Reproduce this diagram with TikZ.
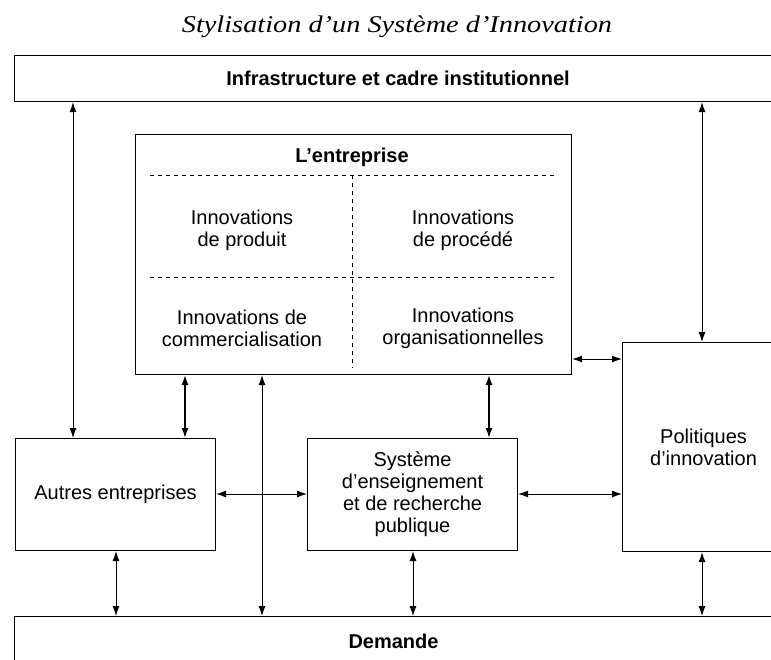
\documentclass[tikz,border=0pt]{standalone}
\usepackage{fontspec}
\setmainfont{Liberation Serif}
\setsansfont{Liberation Sans}
\newfontfamily\titlefont{Liberation Serif}[FakeStretch=1.18]
\usetikzlibrary{arrows.meta}
\begin{document}
\begin{tikzpicture}[x=1pt,y=-1pt,
  txt/.style={font=\sffamily\fontsize{20}{22}\selectfont, align=center, inner sep=0pt},
  btxt/.style={font=\sffamily\bfseries\fontsize{20}{22}\selectfont, align=center, inner sep=0pt},
  box/.style={draw, line width=1.1pt, rectangle, inner sep=0pt, anchor=north west, txt},
  bbox/.style={box, btxt},
  arr/.style={{Latex[length=10pt,width=7pt]}-{Latex[length=10pt,width=7pt]}, line width=1pt},
  sep/.style={dash pattern=on 4pt off 4pt, line width=0.8pt}]
\useasboundingbox (0,0) rectangle (771,659);
\clip (0,0) rectangle (771,659);
% title
\node[font=\titlefont\itshape\fontsize{24}{28}\selectfont, inner sep=0pt, anchor=base] (title) at (397,32) {Stylisation d’un Système d’Innovation};
% boxes
\node[bbox, minimum width=767pt, minimum height=46pt] (infra) at (14,55) {Infrastructure et cadre institutionnel};
\node[box, minimum width=436.5pt, minimum height=240pt] (entr) at (134.5,134) {};
\node[box, minimum width=200pt, minimum height=112pt] (autres) at (15,438) {Autres entreprises};
\node[box, minimum width=210pt, minimum height=112pt] (sys) at (307,438) {Système\\d’enseignement\\et de recherche\\publique};
\node[box, minimum width=162pt, minimum height=209pt] (pol) at (622,342) {Politiques\\d’innovation};
\node[bbox, minimum width=758pt, minimum height=50pt] (dem) at (14,616) {Demande};
% inside the firm
\node[btxt] (ltitle) at (352,157) {L’entreprise};
\draw[sep] (150,175) -- (556,175);
\draw[sep] (150,277) -- (556,277);
\draw[sep] (352,175) -- (352,368);
\node[txt] (q1) at (242,230) {Innovations\\de produit};
\node[txt] (q2) at (463,230) {Innovations\\de procédé};
\node[txt] (q3) at (242,328) {Innovations de\\commercialisation};
\node[txt] (q4) at (463,328) {Innovations\\organisationnelles};
% x positions of vertical connectors
\coordinate (xa) at (73,0);
\coordinate (xb) at (185,0);
\coordinate (xc) at (262,0);
\coordinate (xd) at (489,0);
\coordinate (xe) at (702,0);
\coordinate (xf) at (116,0);
\coordinate (xg) at (413,0);
\coordinate (ya) at (0,359);
\coordinate (yb) at (0,494);
% connectors
\draw[arr] (infra.south -| xa) -- (autres.north -| xa);
\draw[arr] (infra.south -| xe) -- (pol.north -| xe);
\draw[arr, line width=1.4pt] (entr.south -| xb) -- (autres.north -| xb);
\draw[arr] (entr.south -| xc) -- (dem.north -| xc);
\draw[arr, line width=1.4pt] (entr.south -| xd) -- (sys.north -| xd);
\draw[arr] (entr.east |- ya) -- (pol.west |- ya);
\draw[arr] (autres.east |- yb) -- (sys.west |- yb);
\draw[arr] (sys.east |- yb) -- (pol.west |- yb);
\draw[arr] (autres.south -| xf) -- (dem.north -| xf);
\draw[arr] (sys.south -| xg) -- (dem.north -| xg);
\draw[arr] (pol.south -| xe) -- (dem.north -| xe);
\end{tikzpicture}
\end{document}
